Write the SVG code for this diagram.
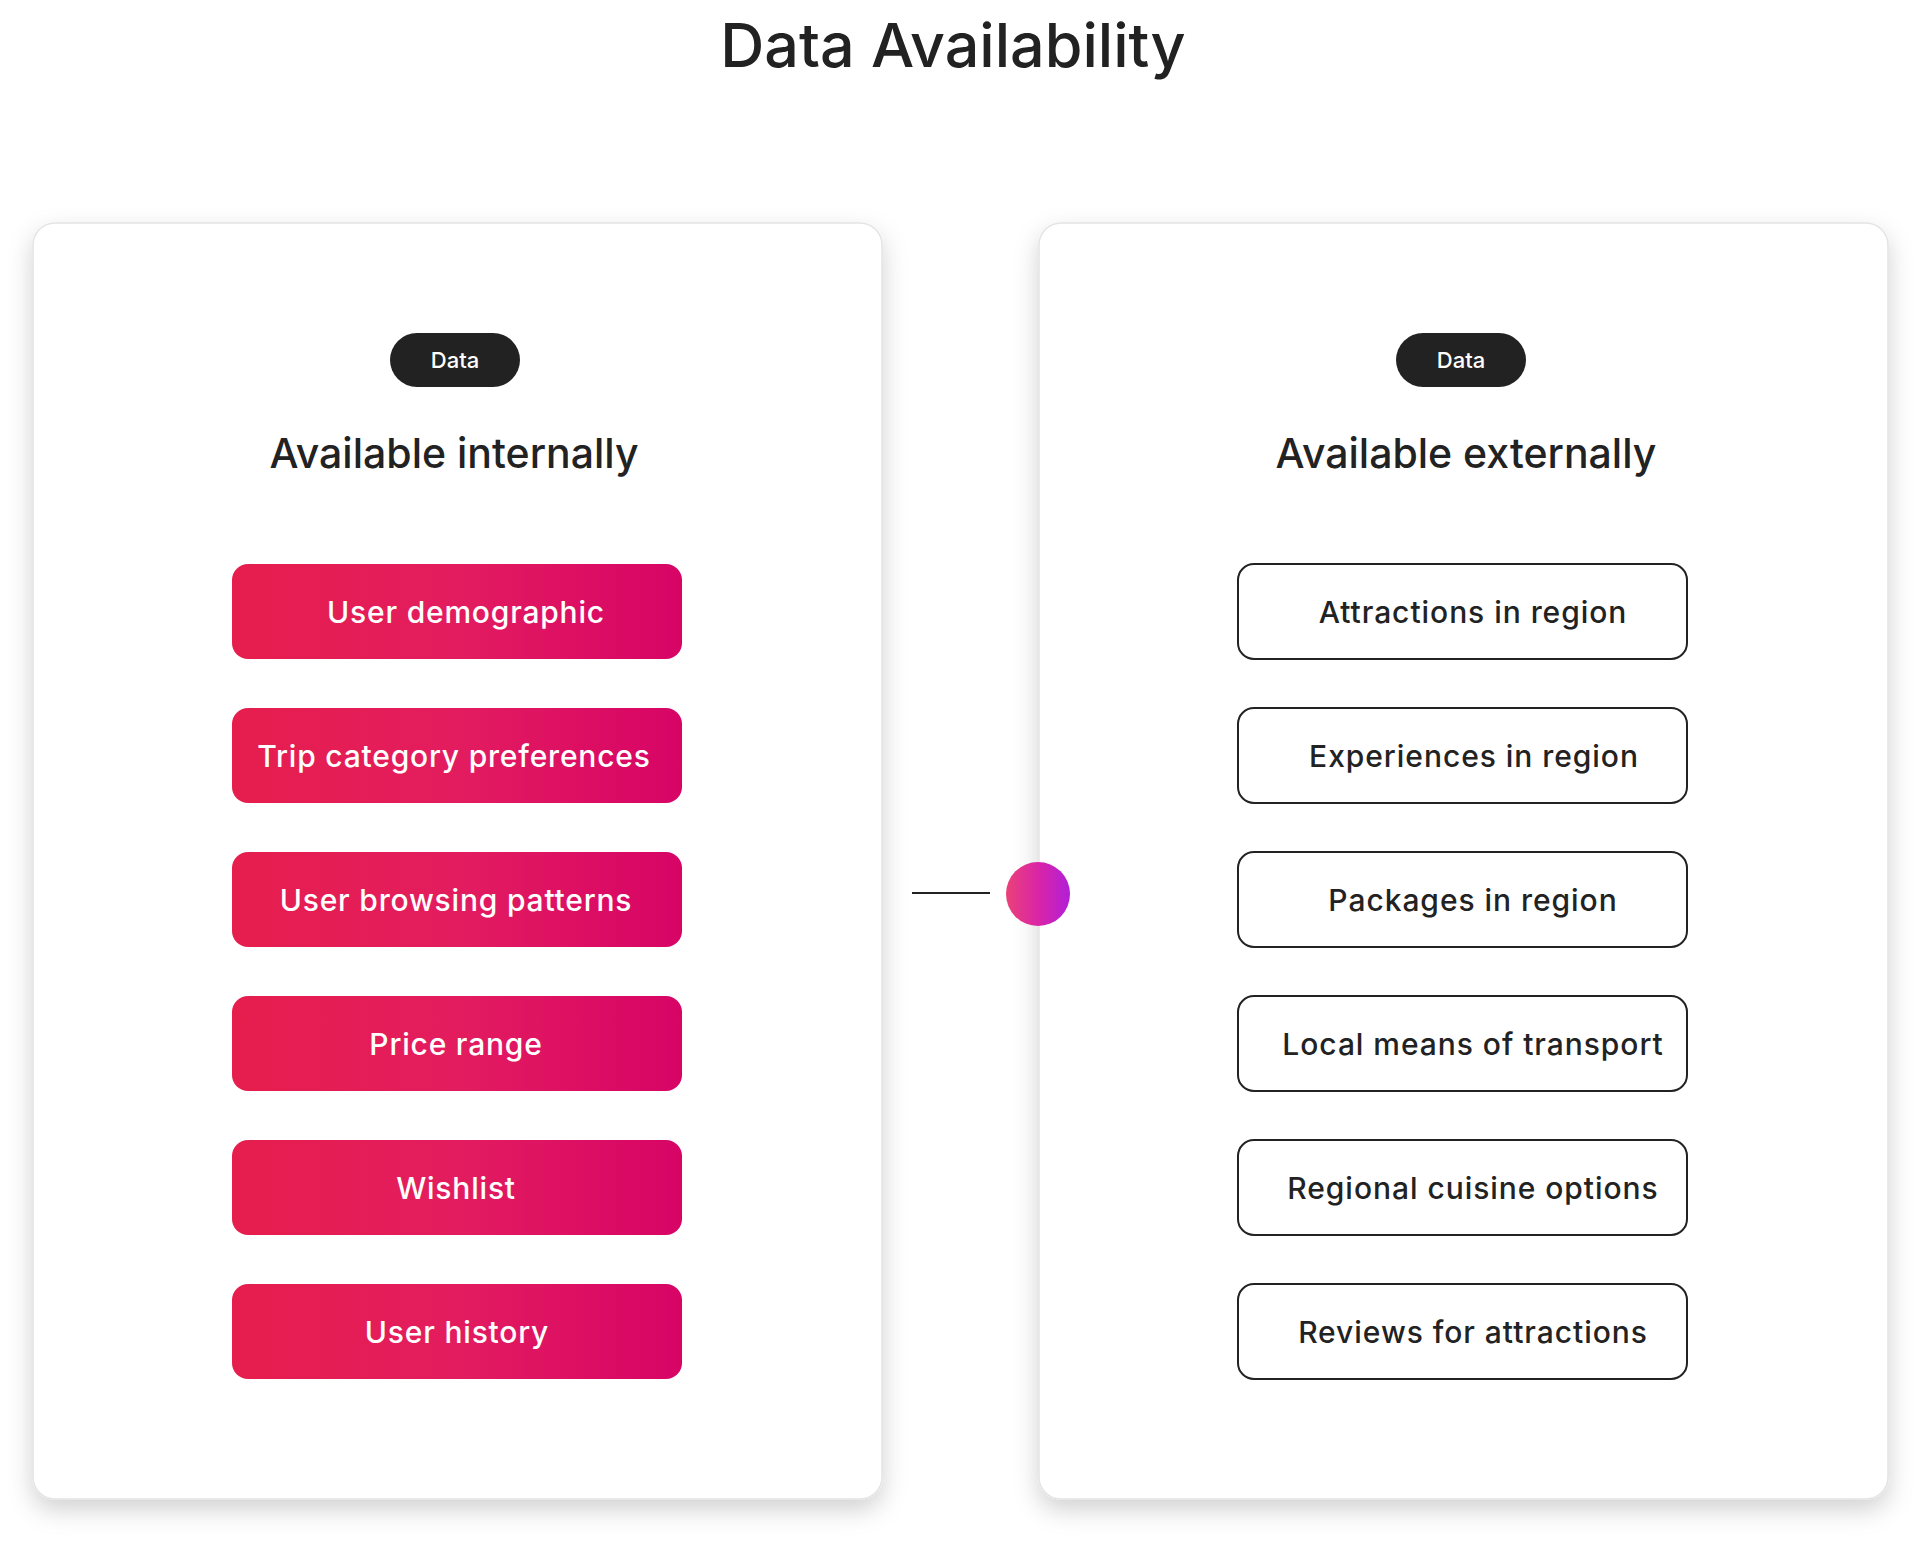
<svg xmlns="http://www.w3.org/2000/svg" width="1924" height="1546" viewBox="0 0 1924 1546">
<defs>
<linearGradient id="pink" x1="0" y1="0" x2="1" y2="0">
<stop offset="0" stop-color="#E61E4D"/>
<stop offset="0.5" stop-color="#E31C5F"/>
<stop offset="1" stop-color="#D70466"/>
</linearGradient>
<linearGradient id="dot" x1="0" y1="0" x2="1" y2="0">
<stop offset="0" stop-color="#EA4279"/>
<stop offset="0.5" stop-color="#DA25A6"/>
<stop offset="1" stop-color="#B11FD8"/>
</linearGradient>
<filter id="shadow" x="-10%" y="-10%" width="120%" height="120%">
<feDropShadow dx="0" dy="10" stdDeviation="12" flood-color="#000" flood-opacity="0.18"/>
</filter>
<style>
text{font-family:"Inter","Liberation Sans",sans-serif;fill:#222222;text-anchor:middle}
.title{font-size:61px;font-weight:500}
.head{font-size:41px;font-weight:500}
.pilltxt{font-size:22px;font-weight:500;fill:#ffffff}
.card{fill:#ffffff;stroke:#e4e4e4;stroke-width:1.5;filter:url(#shadow)}
.pill{fill:#222222}
.pbox{fill:url(#pink)}
.wbox{fill:#ffffff;stroke:#222222;stroke-width:2}
.ptxt{font-size:30px;font-weight:500;fill:#ffffff;letter-spacing:0.8px}
.wtxt{font-size:30px;font-weight:500;fill:#222222;letter-spacing:0.95px}
</style>
</defs>
<rect width="1924" height="1546" fill="#ffffff"/>
<text class="title" x="953" y="67">Data Availability</text>

<g id="card-internal">
<rect class="card" x="33" y="223" width="849" height="1276" rx="22"/>
<rect class="pill" x="390" y="333" width="130" height="54" rx="27"/>
<text class="pilltxt" x="455" y="368">Data</text>
<text class="head" x="454" y="468">Available internally</text>
</g>
<g id="card-external">
<rect class="card" x="1039" y="223" width="849" height="1276" rx="22"/>
<rect class="pill" x="1396" y="333" width="130" height="54" rx="27"/>
<text class="pilltxt" x="1461" y="368">Data</text>
<text class="head" x="1466" y="468">Available externally</text>
</g>

<g id="n-user-demographic"><rect class="pbox" x="232" y="564" width="450" height="95" rx="16"/><text class="ptxt" x="466" y="623">User demographic</text></g>
<g id="n-trip-category"><rect class="pbox" x="232" y="708" width="450" height="95" rx="16"/><text class="ptxt" x="454" y="767">Trip category preferences</text></g>
<g id="n-browsing"><rect class="pbox" x="232" y="852" width="450" height="95" rx="16"/><text class="ptxt" x="456" y="911">User browsing patterns</text></g>
<g id="n-price"><rect class="pbox" x="232" y="996" width="450" height="95" rx="16"/><text class="ptxt" x="456" y="1055">Price range</text></g>
<g id="n-wishlist"><rect class="pbox" x="232" y="1140" width="450" height="95" rx="16"/><text class="ptxt" x="456" y="1199">Wishlist</text></g>
<g id="n-history"><rect class="pbox" x="232" y="1284" width="450" height="95" rx="16"/><text class="ptxt" x="457" y="1343">User history</text></g>

<g id="n-attractions"><rect class="wbox" x="1238" y="564" width="449" height="95" rx="16"/><text class="wtxt" x="1473" y="623">Attractions in region</text></g>
<g id="n-experiences"><rect class="wbox" x="1238" y="708" width="449" height="95" rx="16"/><text class="wtxt" x="1474" y="767">Experiences in region</text></g>
<g id="n-packages"><rect class="wbox" x="1238" y="852" width="449" height="95" rx="16"/><text class="wtxt" x="1473" y="911">Packages in region</text></g>
<g id="n-transport"><rect class="wbox" x="1238" y="996" width="449" height="95" rx="16"/><text class="wtxt" x="1473" y="1055">Local means of transport</text></g>
<g id="n-cuisine"><rect class="wbox" x="1238" y="1140" width="449" height="95" rx="16"/><text class="wtxt" x="1473" y="1199">Regional cuisine options</text></g>
<g id="n-reviews"><rect class="wbox" x="1238" y="1284" width="449" height="95" rx="16"/><text class="wtxt" x="1473" y="1343">Reviews for attractions</text></g>

<g id="connectors">
<line x1="912" y1="893" x2="990" y2="893" stroke="#222222" stroke-width="2"/>
<circle cx="1038" cy="894" r="32" fill="url(#dot)"/>
</g>
</svg>
